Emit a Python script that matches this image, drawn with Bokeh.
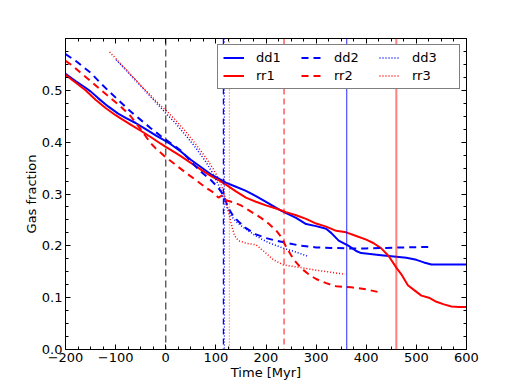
from bokeh.plotting import figure
from bokeh.models import (Range1d, FixedTicker, LinearAxis, Span, Legend, LegendItem,
                          NumeralTickFormatter)
from bokeh.embed import file_html
from bokeh.resources import INLINE

# ---- data ----
dd1_t = [-200, -180, -160, -150, -135, -115, -95, -80, -60, -40, -20, 0, 10, 30, 50, 70, 90, 105,
         120, 140, 160, 180, 200, 230, 260, 280, 300, 320, 330, 345, 365, 380, 390, 430, 480, 500,
         515, 530, 600]
dd1_y = [0.532, 0.518, 0.505, 0.498, 0.485, 0.469, 0.455, 0.447, 0.437, 0.425, 0.413, 0.402,
         0.396, 0.382, 0.366, 0.352, 0.338, 0.330, 0.322, 0.314, 0.306, 0.296, 0.285, 0.268,
         0.254, 0.242, 0.238, 0.233, 0.225, 0.210, 0.200, 0.190, 0.186, 0.182, 0.177, 0.173,
         0.168, 0.164, 0.164]

rr1_t = [-200, -180, -160, -140, -120, -100, -90, -70, -50, -30, -10, 0, 10, 30, 50, 70, 90, 105,
         120, 140, 160, 180, 200, 220, 240, 260, 280, 300, 320, 340, 360, 380, 400, 415, 430, 445,
         460, 470, 483, 495, 510, 525, 540, 555, 570, 585, 600]
rr1_y = [0.530, 0.515, 0.500, 0.482, 0.466, 0.452, 0.446, 0.434, 0.422, 0.410, 0.397, 0.391,
         0.385, 0.373, 0.360, 0.347, 0.335, 0.327, 0.318, 0.305, 0.293, 0.285, 0.278, 0.272,
         0.265, 0.259, 0.252, 0.243, 0.237, 0.229, 0.226, 0.219, 0.212, 0.205, 0.195, 0.180,
         0.158, 0.145, 0.124, 0.115, 0.104, 0.100, 0.092, 0.087, 0.083, 0.082, 0.082]

dd2_t = [-200, -180, -150, -130, -110, -90, -70, -50, -30, -10, 10, 30, 50, 70, 90, 105, 115,
         125, 135, 145, 160, 180, 200, 220, 240, 270, 300, 330, 360, 400, 440, 480, 525]
dd2_y = [0.570, 0.557, 0.534, 0.514, 0.495, 0.477, 0.459, 0.443, 0.427, 0.412, 0.398, 0.384,
         0.363, 0.343, 0.327, 0.312, 0.298, 0.273, 0.257, 0.247, 0.234, 0.222, 0.215, 0.210,
         0.206, 0.200, 0.197, 0.196, 0.195, 0.195, 0.196, 0.197, 0.198]

rr2_t = [-200, -185, -170, -150, -130, -110, -90, -70, -50, -30, -20, 0, 20, 40, 60, 80, 95, 105,
         112, 120, 135, 150, 170, 190, 205, 220, 232, 240, 255, 270, 285, 300, 320, 340, 370,
         400, 428]
rr2_y = [0.557, 0.547, 0.534, 0.518, 0.501, 0.485, 0.469, 0.450, 0.425, 0.398, 0.388, 0.371,
         0.356, 0.341, 0.327, 0.312, 0.303, 0.293, 0.297, 0.288, 0.284, 0.278, 0.266, 0.254,
         0.243, 0.230, 0.215, 0.198, 0.174, 0.157, 0.145, 0.136, 0.128, 0.122, 0.120, 0.116,
         0.110]

dd3_t = [-99, -80, -60, -40, -20, 0, 20, 40, 60, 80, 95, 107, 117, 125, 132, 140, 150, 163, 180,
         203, 236, 260, 283]
dd3_y = [0.559, 0.540, 0.519, 0.498, 0.477, 0.456, 0.436, 0.413, 0.389, 0.362, 0.338, 0.314,
         0.288, 0.268, 0.256, 0.247, 0.239, 0.230, 0.219, 0.207, 0.195, 0.188, 0.180]

rr3_t = [-112, -90, -70, -50, -30, -10, 0, 20, 40, 60, 80, 95, 108, 117, 123, 130, 137, 145, 160,
         180, 195, 215, 235, 270, 300, 330, 358]
rr3_y = [0.574, 0.551, 0.530, 0.510, 0.490, 0.470, 0.462, 0.442, 0.420, 0.396, 0.370, 0.348,
         0.325, 0.300, 0.275, 0.245, 0.220, 0.210, 0.205, 0.202, 0.190, 0.173, 0.163, 0.158,
         0.153, 0.149, 0.145]

# vertical markers (time in Myr)
t_zero = 0
t_dd2 = 115
t_dd3 = 117
t_rr3 = 127
t_rr2 = 236
t_dd1 = 361
t_rr1 = 460

x_ticks = [-200, -100, 0, 100, 200, 300, 400, 500, 600]
y_ticks = [0.0, 0.1, 0.2, 0.3, 0.4, 0.5]

FONT = "DejaVu Sans"
BLUE = "#0000ff"
RED = "#ff0000"

p = figure(width=510, height=382, output_backend="svg", toolbar_location=None,
           x_range=Range1d(-200, 600), y_range=Range1d(0.0, 0.6),
           x_axis_label="Time [Myr]", y_axis_label="Gas fraction",
           min_border_left=65, min_border_right=44, min_border_top=38, min_border_bottom=33)
p.grid.visible = False
p.outline_line_color = "black"
p.outline_line_width = 1
p.background_fill_color = "white"
p.border_fill_color = "white"

xt = FixedTicker(ticks=x_ticks, minor_ticks=list(range(-200, 601, 25)))
yt = FixedTicker(ticks=y_ticks, minor_ticks=[i * 0.025 for i in range(0, 25)])

def style_axis(ax):
    ax.major_tick_in = 5
    ax.major_tick_out = 0
    ax.minor_tick_in = 3
    ax.minor_tick_out = 0
    ax.axis_line_color = "black"
    ax.major_tick_line_color = "black"
    ax.minor_tick_line_color = "black"
    ax.major_label_text_font = FONT
    ax.major_label_text_font_size = "13px"
    ax.major_label_text_color = "black"
    ax.axis_label_text_font = FONT
    ax.axis_label_text_font_size = "13px"
    ax.axis_label_text_font_style = "normal"
    ax.axis_label_text_color = "black"
    ax.major_label_standoff = 3
    ax.axis_label_standoff = 0

xa = p.xaxis[0]
xa.ticker = xt
xa.major_label_overrides = {-200: "\u2212200", -100: "\u2212100"}
style_axis(xa)
ya = p.yaxis[0]
ya.ticker = yt
ya.formatter = NumeralTickFormatter(format="0.0")
style_axis(ya)

# unlabeled mirror axes (ticks only)
top = LinearAxis(ticker=xt)
style_axis(top)
top.major_label_overrides = {t: "" for t in x_ticks}
top.major_label_standoff = 0
p.add_layout(top, "above")
right = LinearAxis(ticker=yt)
style_axis(right)
right.major_label_overrides = {t: "" for t in y_ticks}
right.major_label_standoff = 0
p.add_layout(right, "right")

# vertical markers
p.add_layout(Span(location=t_zero, dimension="height", line_color="black", line_alpha=0.7,
                  line_width=1.3, line_dash="7 4"))
p.add_layout(Span(location=t_dd2, dimension="height", line_color=BLUE, line_width=1.2,
                  line_dash="6 4"))
p.add_layout(Span(location=t_dd3, dimension="height", line_color=BLUE, line_width=1.2,
                  line_dash="1 2"))
p.add_layout(Span(location=t_rr3, dimension="height", line_color=RED, line_alpha=0.6,
                  line_width=1.2, line_dash="1 2"))
p.add_layout(Span(location=t_rr2, dimension="height", line_color=RED, line_alpha=0.8,
                  line_width=1.2, line_dash="6 4"))
p.add_layout(Span(location=t_dd1, dimension="height", line_color=BLUE, line_alpha=0.7,
                  line_width=1.2))
p.add_layout(Span(location=t_rr1, dimension="height", line_color=RED, line_alpha=0.5,
                  line_width=2))

r_dd1 = p.line(dd1_t, dd1_y, line_color=BLUE, line_width=2)
r_rr1 = p.line(rr1_t, rr1_y, line_color=RED, line_width=2)
r_dd2 = p.line(dd2_t, dd2_y, line_color=BLUE, line_width=2, line_dash="7 5")
r_rr2 = p.line(rr2_t, rr2_y, line_color=RED, line_width=2, line_dash="7 5")
r_dd3 = p.line(dd3_t, dd3_y, line_color=BLUE, line_width=1.5, line_dash="1 2")
r_rr3 = p.line(rr3_t, rr3_y, line_color=RED, line_width=1.5, line_dash="1 2")

legend = Legend(items=[LegendItem(label="dd1", renderers=[r_dd1]),
                       LegendItem(label="rr1", renderers=[r_rr1]),
                       LegendItem(label="dd2", renderers=[r_dd2]),
                       LegendItem(label="rr2", renderers=[r_rr2]),
                       LegendItem(label="dd3", renderers=[r_dd3]),
                       LegendItem(label="rr3", renderers=[r_rr3])],
                location="top_right", orientation="vertical", nrows=2)
legend.margin = 6
legend.padding = 5
legend.spacing = 3
legend.glyph_width = 21
legend.glyph_height = 15
legend.label_height = 15
legend.label_width = 42
legend.label_standoff = 12
legend.label_text_font = FONT
legend.label_text_font_size = "13px"
legend.label_text_color = "black"
legend.border_line_color = "black"
legend.border_line_width = 1
legend.background_fill_color = "white"
legend.background_fill_alpha = 1
p.add_layout(legend, "center")

open("out.html", "w").write(file_html(p, INLINE))
